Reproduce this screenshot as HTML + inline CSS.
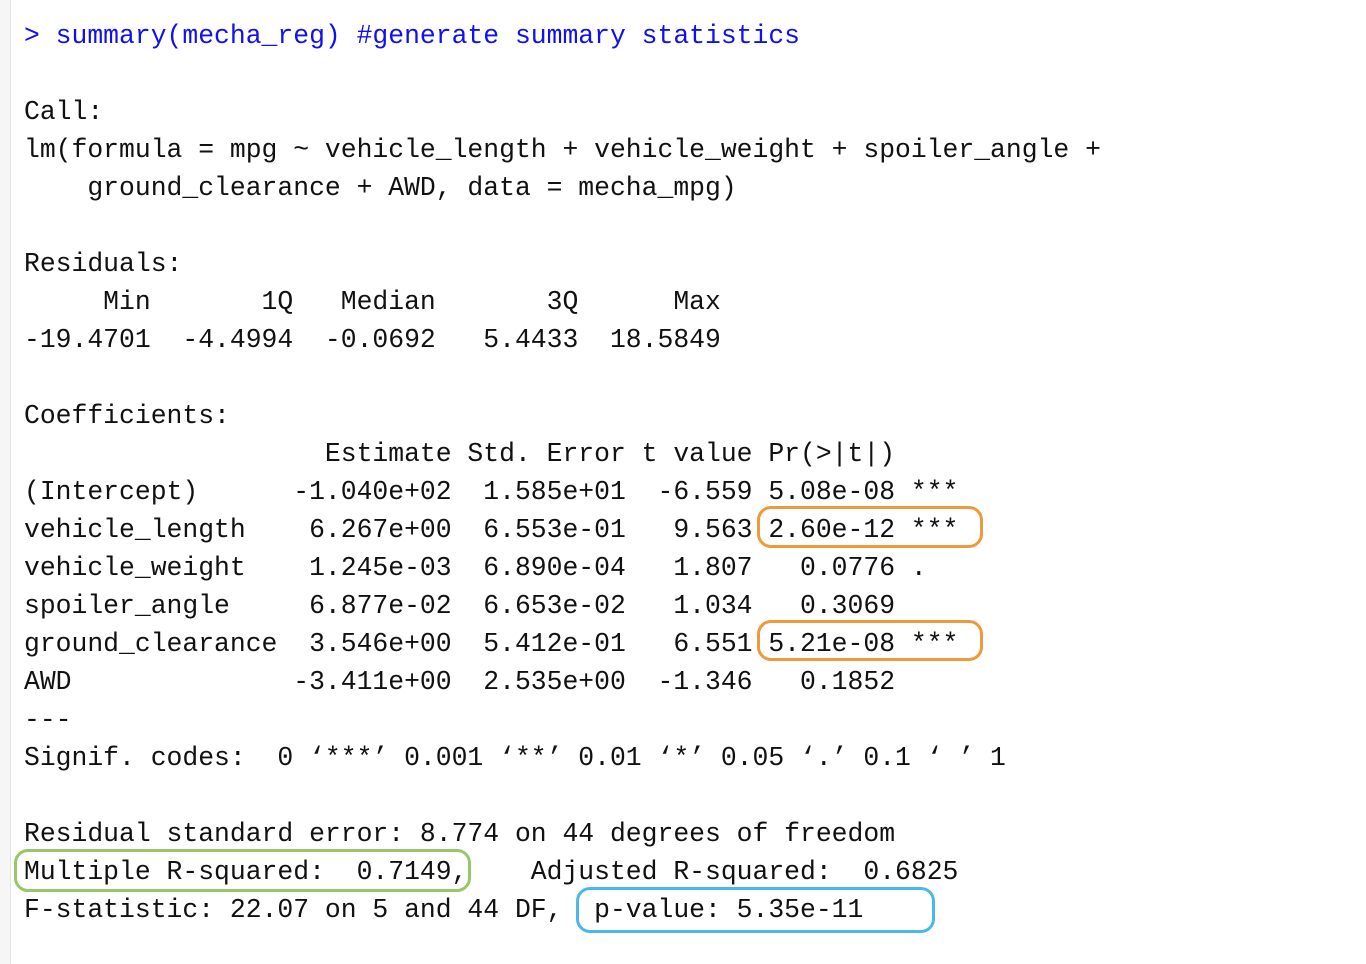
<!DOCTYPE html>
<html><head><meta charset="utf-8">
<style>
html,body{margin:0;padding:0;background:#fff;width:1366px;height:964px;overflow:hidden;}
#stripe{position:absolute;left:0;top:0;width:10px;height:964px;background:#f6f6f6;border-right:1px solid #e2e2e2;}
#console{position:absolute;left:24px;top:17px;margin:0;font-family:"Liberation Mono",monospace;font-size:26.4px;line-height:38px;color:#111;white-space:pre;}
.cmd{color:#1010f0;}
.box{position:absolute;border:3px solid;border-radius:14px;box-sizing:border-box;}
</style></head>
<body>
<div id="stripe"></div>
<pre id="console"><span class="cmd">&gt; summary(mecha_reg) #generate summary statistics</span>

Call:
lm(formula = mpg ~ vehicle_length + vehicle_weight + spoiler_angle + 
    ground_clearance + AWD, data = mecha_mpg)

Residuals:
     Min       1Q   Median       3Q      Max 
-19.4701  -4.4994  -0.0692   5.4433  18.5849 

Coefficients:
                   Estimate Std. Error t value Pr(&gt;|t|)    
(Intercept)      -1.040e+02  1.585e+01  -6.559 5.08e-08 ***
vehicle_length    6.267e+00  6.553e-01   9.563 2.60e-12 ***
vehicle_weight    1.245e-03  6.890e-04   1.807   0.0776 .  
spoiler_angle     6.877e-02  6.653e-02   1.034   0.3069    
ground_clearance  3.546e+00  5.412e-01   6.551 5.21e-08 ***
AWD              -3.411e+00  2.535e+00  -1.346   0.1852    
---
Signif. codes:  0 ‘***’ 0.001 ‘**’ 0.01 ‘*’ 0.05 ‘.’ 0.1 ‘ ’ 1

Residual standard error: 8.774 on 44 degrees of freedom
Multiple R-squared:  0.7149,    Adjusted R-squared:  0.6825 
F-statistic: 22.07 on 5 and 44 DF,  p-value: 5.35e-11</pre>
<div class="box" style="left:757px;top:506px;width:226px;height:42px;border-color:#ef9a3a;"></div>
<div class="box" style="left:757px;top:620px;width:226px;height:41px;border-color:#ef9a3a;"></div>
<div class="box" style="left:14px;top:849px;width:457px;height:43px;border-color:#98c66a;"></div>
<div class="box" style="left:576px;top:887px;width:359px;height:46px;border-color:#4cb8ea;"></div>
</body></html>
